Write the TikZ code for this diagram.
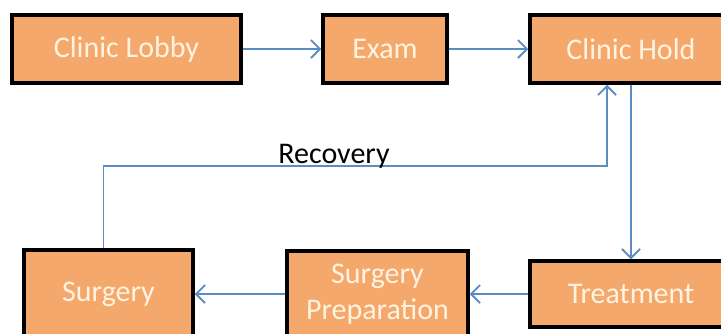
\documentclass[tikz,border=0pt]{standalone}
\usepackage{fontspec}
\setmainfont{Carlito}
\usetikzlibrary{arrows.meta}
\definecolor{boxfill}{HTML}{F5A86C}
\definecolor{boxtext}{HTML}{FFF3E2}
\definecolor{arrowblue}{HTML}{5B8CC3}
\begin{document}
\begin{tikzpicture}[x=1pt,y=-1pt,
  stagebox/.style={draw=black, line width=3.5pt, fill=boxfill, text=boxtext,
    font=\fontsize{30}{36}\selectfont, align=center, inner sep=0pt},
  arr/.style={draw=arrowblue, line width=1.8pt,
    -{Straight Barb[length=9pt,width=18pt,line width=1.8pt]}}]
\useasboundingbox (0,0) rectangle (721,333);
\fill[white] (0,0) rectangle (721,333);
\clip (0,0) rectangle (721,333);
\node[stagebox, minimum width=229pt, minimum height=68pt] (lobby) at (126.5,49) {Clinic Lobby};
\node[stagebox, minimum width=124pt, minimum height=68pt] (exam) at (385,49) {Exam};
\node[stagebox, minimum width=202pt, minimum height=68pt] (hold) at (631,49) {Clinic Hold};
\node[stagebox, minimum width=169pt, minimum height=88pt] (surgery) at (108.5,294) {Surgery};
\node[stagebox, minimum width=181pt, minimum height=86pt] (prep) at (377.5,294) {Surgery\\Preparation};
\node[stagebox, minimum width=202pt, minimum height=66pt] (treat) at (631,294) {Treatment};
\draw[arr] (lobby.east) -- (exam.west);
\draw[arr] (exam.east) -- (hold.west);
\draw[arr] (hold.south) -- (treat.north);
\draw[arr] (treat.west) -- (prep.east);
\draw[arr] (prep.west) -- (surgery.east);
\coordinate (turn) at (607,166);
\draw[arr] ([xshift=-5pt]surgery.north) |- (turn) -- (turn |- hold.south);
\node[anchor=base, font=\fontsize{30}{36}\selectfont, text=black, inner sep=0pt] (rec) at (334,163) {Recovery};
\end{tikzpicture}
\end{document}
